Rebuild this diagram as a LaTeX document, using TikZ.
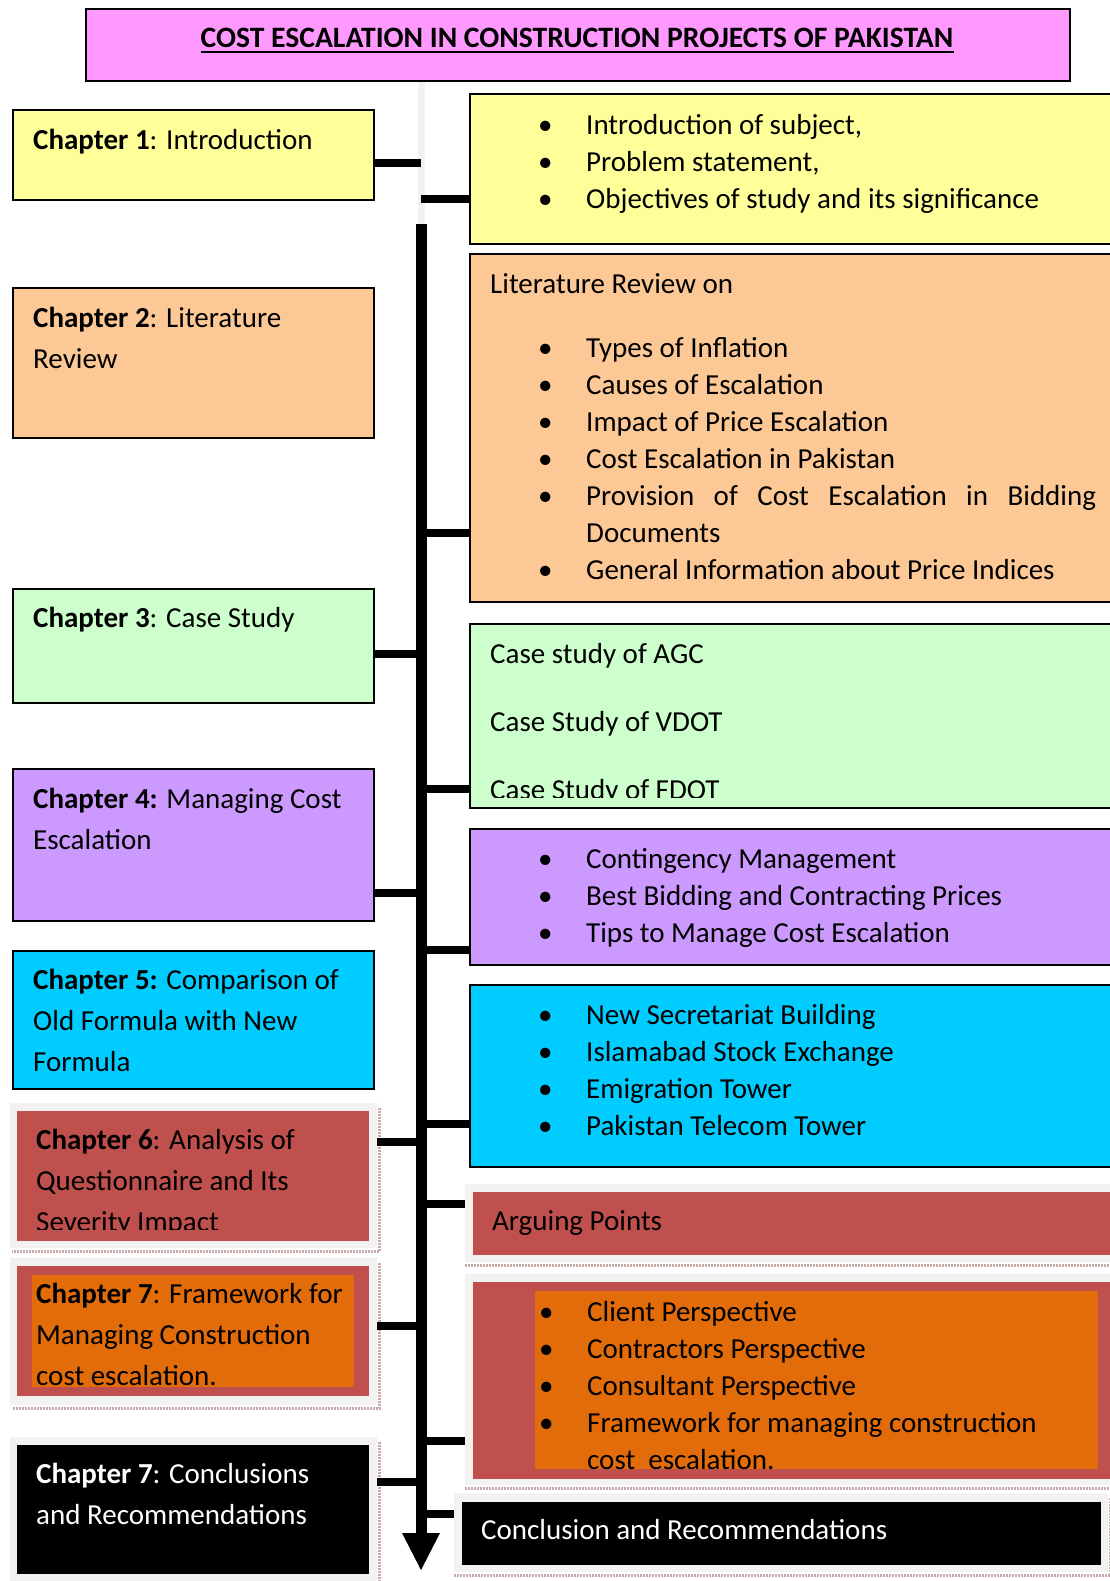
\documentclass[tikz,border=0pt]{standalone}
\usepackage{fontspec}
\setmainfont{Carlito}
\usepackage{xcolor}
\usetikzlibrary{calc}

\definecolor{titlepink}{RGB}{255,153,255}
\definecolor{introyellow}{RGB}{255,255,153}
\definecolor{litpeach}{RGB}{251,200,150}
\definecolor{casegreen}{RGB}{204,255,204}
\definecolor{managepurple}{RGB}{204,153,255}
\definecolor{comparecyan}{RGB}{0,204,255}
\definecolor{analysisred}{RGB}{192,80,77}
\definecolor{frameorange}{RGB}{226,108,10}
\definecolor{framegray}{RGB}{242,242,242}
\definecolor{hatchgray}{RGB}{200,170,170}

\newcommand{\chfont}{\fontsize{29}{41}\selectfont}
\newcommand{\lsfont}{\fontsize{29}{37}\selectfont}
\newcommand{\bul}{\makebox[48pt][l]{\textbullet}}

\tikzset{
  box/.style={draw=black, line width=2pt, anchor=north west, inner sep=0pt},
  frm/.style={fill=framegray, anchor=north west, inner sep=0pt},
  plain/.style={anchor=north west, inner sep=0pt},
  chtext/.style={anchor=north west, inner sep=0pt, align=left, font=\chfont},
  lstext/.style={anchor=north west, inner sep=0pt, align=left, font=\lsfont},
  link/.style={line width=8pt},
  hatch/.style={draw=hatchgray, line width=3pt, dash pattern=on 1.5pt off 1.5pt}
}

\begin{document}
\begin{tikzpicture}[x=1pt,y=1pt,yscale=-1]
    \useasboundingbox (0,0) rectangle (1110,1581);

    %Spine with arrow
    \coordinate (spine) at (421,0);
    \coordinate (sptop) at (421,80);
    \coordinate (spjoin) at (421,224);
    \coordinate (spbase) at (421,1534);
    \coordinate (sptip) at (421,1570);
    \draw[framegray, line width=7pt] (sptop) -- (spjoin);
    \draw[line width=11pt] (spjoin) -- (spbase);
    \fill (sptip) -- ++(-19,-37) -- ++(38,0) -- cycle;

    %Title
    \node[box, fill=titlepink, minimum width=984pt, minimum height=72pt] (title) at (85,8) {};
    \node[anchor=base, inner sep=0pt, font=\fontsize{29.6}{37}\selectfont\bfseries] (ttl) at (577,48) {COST ESCALATION IN CONSTRUCTION PROJECTS OF PAKISTAN};
    \draw[line width=2.5pt] ([yshift=4pt]ttl.base west) -- ([yshift=4pt]ttl.base east);

    %Chapter 1
    \node[box, fill=introyellow, minimum width=361pt, minimum height=90pt] (intro) at (12,109) {};
    \node[chtext] at (33,120.5) {\strut\textbf{Chapter 1}: Introduction};
    \node[box, fill=introyellow, minimum width=660pt, minimum height=150pt] (introR) at (469,93) {};
    \node[lstext] at (538,108.6) {\strut\bul Introduction of subject,\\\bul Problem statement,\\\bul Objectives of study and its significance};

    %Chapter 2
    \node[box, fill=litpeach, minimum width=361pt, minimum height=150pt] (litrev) at (12,287) {};
    \node[chtext] at (33,298.5) {\strut\textbf{Chapter 2}: Literature\\Review};
    \node[box, fill=litpeach, minimum width=660pt, minimum height=348pt] (litR) at (469,253) {};
    \node[lstext] at (490,267.6) {\strut Literature Review on};
    \node[lstext] at (538,331.6) {\strut\bul Types of Inflation\\\bul Causes of Escalation\\\bul Impact of Price Escalation\\\bul Cost Escalation in Pakistan\\\bul\makebox[510pt][s]{Provision of Cost Escalation in Bidding}\\\hspace*{48pt}Documents\\\bul General Information about Price Indices};

    %Chapter 3
    \node[box, fill=casegreen, minimum width=361pt, minimum height=114pt] (casest) at (12,588) {};
    \node[chtext] at (33,598.5) {\strut\textbf{Chapter 3}: Case Study};
    \node[box, fill=casegreen, minimum width=660pt, minimum height=184pt] (caseR) at (469,623) {};
    \begin{scope}
      \clip (469,623) rectangle (1120,797);
      \node[lstext] at (490,637.6) {\strut Case study of AGC\\[31pt]Case Study of VDOT\\[31pt]Case Study of FDOT};
    \end{scope}

    %Chapter 4
    \node[box, fill=managepurple, minimum width=361pt, minimum height=152pt] (manage) at (12,768) {};
    \node[chtext] at (33,779.5) {\strut\textbf{Chapter 4:} Managing Cost\\Escalation};
    \node[box, fill=managepurple, minimum width=660pt, minimum height=136pt] (manageR) at (469,828) {};
    \node[lstext] at (538,842.6) {\strut\bul Contingency Management\\\bul Best Bidding and Contracting Prices\\\bul Tips to Manage Cost Escalation};

    %Chapter 5
    \node[box, fill=comparecyan, minimum width=361pt, minimum height=138pt] (compare) at (12,950) {};
    \node[chtext] at (33,960.5) {\strut\textbf{Chapter 5:} Comparison of\\Old Formula with New\\Formula};
    \node[box, fill=comparecyan, minimum width=660pt, minimum height=182pt] (compareR) at (469,984) {};
    \node[lstext] at (538,998.6) {\strut\bul New Secretariat Building\\\bul Islamabad Stock Exchange\\\bul Emigration Tower\\\bul Pakistan Telecom Tower};

    %Chapter 6
    \node[frm, minimum width=367pt, minimum height=145pt] (analysisf) at (10,1103) {};
    \node[plain, fill=analysisred, minimum width=352pt, minimum height=130pt] (analysis) at (17,1111) {};
    \draw[hatch] ([shift={(2,5)}]analysisf.north east) -- ([shift={(2,3)}]analysisf.south east) -- ([shift={(2,3)}]analysisf.south west);
    \begin{scope}
      \clip (17,1111) rectangle (369,1229);
      \node[chtext] at (36,1120.3) {\strut\textbf{Chapter 6}: Analysis of\\Questionnaire and Its\\Severity Impact};
    \end{scope}
    \node[frm, minimum width=660pt, minimum height=78pt] (analysisRf) at (465,1184) {};
    \node[plain, fill=analysisred, minimum width=660pt, minimum height=63pt] (analysisR) at (473,1192) {};
    \draw[hatch] ([shift={(0,3)}]analysisRf.south west) -- ([shift={(0,3)}]analysisRf.south east);
    \node[lstext] at (492,1204.6) {\strut Arguing Points};

    %Chapter 7 framework
    \node[frm, minimum width=367pt, minimum height=147pt] (framef) at (10,1258) {};
    \node[plain, fill=analysisred, minimum width=352pt, minimum height=130pt] (frame) at (17,1266) {};
    \node[plain, fill=frameorange, minimum width=322pt, minimum height=112pt] (framein) at (32,1275) {};
    \draw[hatch] ([shift={(2,5)}]framef.north east) -- ([shift={(2,3)}]framef.south east) -- ([shift={(2,3)}]framef.south west);
    \node[chtext] at (36,1275) {\strut\textbf{Chapter 7}: Framework for\\Managing Construction\\cost escalation.};
    \node[frm, minimum width=660pt, minimum height=211pt] (frameRf) at (465,1274) {};
    \node[plain, fill=analysisred, minimum width=660pt, minimum height=197pt] (frameR) at (473,1282) {};
    \node[plain, fill=frameorange, minimum width=563pt, minimum height=178pt] (frameRin) at (535,1291) {};
    \draw[hatch] ([shift={(0,3)}]frameRf.south west) -- ([shift={(0,3)}]frameRf.south east);
    \node[lstext] at (539,1295) {\strut\bul Client Perspective\\\bul Contractors Perspective\\\bul Consultant Perspective\\\bul Framework for managing construction\\\hspace*{48pt}cost\ \ escalation.};

    %Chapter 7 conclusions
    \node[frm, minimum width=367pt, minimum height=160pt] (conclf) at (10,1437) {};
    \node[plain, fill=black, minimum width=352pt, minimum height=129pt] (concl) at (17,1445) {};
    \draw[hatch] ([shift={(2,5)}]conclf.north east) -- ([shift={(2,3)}]conclf.south east);
    \node[chtext, text=white] at (36,1455) {\strut\textbf{Chapter 7}: Conclusions\\and Recommendations};
    \node[frm, minimum width=654pt, minimum height=79pt] (concludeRf) at (454,1493) {};
    \node[plain, fill=black, minimum width=639pt, minimum height=63pt] (concludeR) at (462,1502) {};
    \draw[hatch] ([shift={(2,5)}]concludeRf.north east) -- ([shift={(2,3)}]concludeRf.south east) -- ([shift={(0,3)}]concludeRf.south west);
    \node[lstext, text=white] at (481,1513.6) {\strut Conclusion and Recommendations};

    %Connectors
    \draw[link] (intro.east |- 0,163) -- (spine |- 0,163);
    \draw[link] (spine |- 0,199) -- (introR.west |- 0,199);
    \draw[link] (spine |- 0,533) -- (litR.west |- 0,533);
    \draw[link] (casest.east |- 0,654) -- (spine |- 0,654);
    \draw[link] (spine |- 0,789) -- (caseR.west |- 0,789);
    \draw[link] (manage.east |- 0,893) -- (spine |- 0,893);
    \draw[link] (spine |- 0,950) -- (manageR.west |- 0,950);
    \draw[link] (spine |- 0,1124) -- (compareR.west |- 0,1124);
    \draw[link] (analysisf.east |- 0,1142) -- (spine |- 0,1142);
    \draw[link] (spine |- 0,1204) -- (analysisRf.west |- 0,1204);
    \draw[link] (framef.east |- 0,1326) -- (spine |- 0,1326);
    \draw[link] (spine |- 0,1441) -- (frameRf.west |- 0,1441);
    \draw[link] (conclf.east |- 0,1482) -- (spine |- 0,1482);
    \draw[link] (spine |- 0,1514) -- (concludeRf.west |- 0,1514);

\end{tikzpicture}
\end{document}
